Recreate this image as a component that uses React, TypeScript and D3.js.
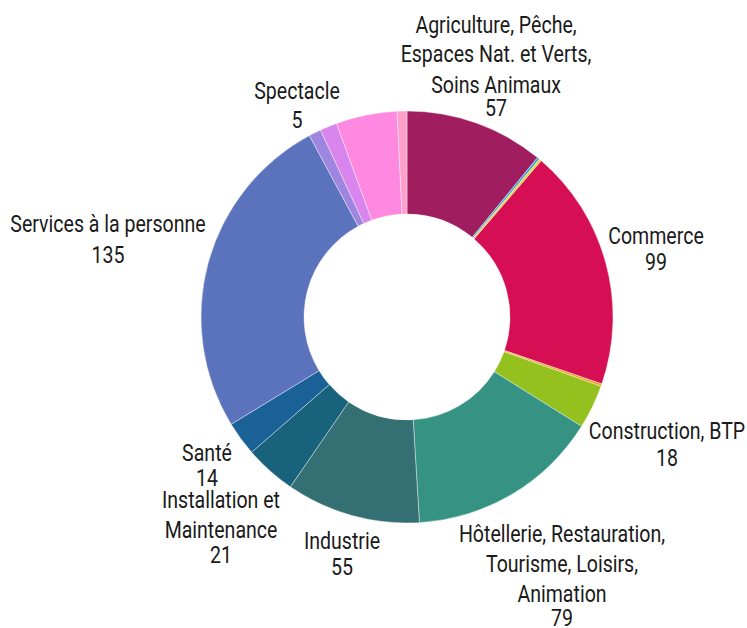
import React from "react";
import * as d3 from "d3";

// ---- data ----
const categories = [
  "Agriculture, Pêche, Espaces Nat. et Verts, Soins Animaux",
  "Arts et Façonnage d'ouvrages d'art",
  "Banque, Assurance, Immobilier",
  "Commerce",
  "Communication, Média et Multimédia",
  "Construction, BTP",
  "Hôtellerie, Restauration, Tourisme, Loisirs, Animation",
  "Industrie",
  "Installation et Maintenance",
  "Santé",
  "Services à la personne",
  "Spectacle",
  "Support à l'entreprise",
  "Transport et Logistique",
  "Non renseigné",
];
const values = [57, 1, 1, 99, 1, 18, 79, 55, 21, 14, 135, 5, 7, 25, 4];
const colors = [
  "#A01E5F", "#35A8E0", "#F6D330", "#D60F55", "#F7A11A", "#95C11E",
  "#369384", "#346F73", "#18627B", "#1A6197", "#5B72BC", "#9D85E0",
  "#D985EE", "#FF88E0", "#FFA0CB",
];
// label text lines (empty => no label shown)
const labelLines: string[][] = [
  ["Agriculture, Pêche,", "Espaces Nat. et Verts,", "Soins Animaux"],
  [],
  [],
  ["Commerce"],
  [],
  ["Construction, BTP"],
  ["Hôtellerie, Restauration,", "Tourisme, Loisirs,", "Animation"],
  ["Industrie"],
  ["Installation et", "Maintenance"],
  ["Santé"],
  ["Services à la personne"],
  ["Spectacle"],
  [],
  [],
  [],
];

// ---- layout (label anchors: center x, line baselines, value baseline) ----
const labelLayout: Record<number, { x: number; ys: number[]; vy: number }> = {
  0: { x: 496, ys: [33, 62, 93], vy: 116 },
  3: { x: 656, ys: [244], vy: 270 },
  5: { x: 667, ys: [439], vy: 466 },
  6: { x: 562, ys: [542, 572, 602], vy: 626 },
  7: { x: 342, ys: [549], vy: 575 },
  8: { x: 221, ys: [508, 538], vy: 563 },
  9: { x: 207, ys: [461], vy: 486 },
  10: { x: 108, ys: [232], vy: 263 },
  11: { x: 297, ys: [99], vy: 128 },
};

const W = 747;
const H = 628;
const CX = 407;
const CY = 317;
const R = 206;
const r = 103;
const FONT = "Roboto, 'Noto Sans', sans-serif";
const FS = 23;
const SX = 0.85;

export default function App() {
  const pie = d3
    .pie<number>()
    .sort(null)
    .value((d) => d)
    .startAngle(0)
    .endAngle(2 * Math.PI);
  const arcs = pie(values);
  const arcGen = d3.arc<d3.PieArcDatum<number>>().innerRadius(r).outerRadius(R);

  return (
    <svg
      width={W}
      height={H}
      style={{ position: "absolute", left: 0, top: 0, background: "#fff" }}
      fontFamily={FONT}
    >
      <g transform={`translate(${CX},${CY})`}>
        {arcs.map((a, i) => (
          <path
            key={categories[i]}
            d={arcGen(a) || ""}
            fill={colors[i]}
            stroke="#fff"
            strokeWidth={0.4}
          />
        ))}
      </g>
      {arcs.map((a, i) => {
        const lay = labelLayout[i];
        if (!lay || labelLines[i].length === 0) return null;
        return (
          <g key={"l" + i} transform={`translate(${lay.x},0) scale(${SX},1)`}>
            {labelLines[i].map((t, j) => (
              <text
                key={j}
                x={0}
                y={lay.ys[j]}
                textAnchor="middle"
                fontSize={FS}
                fill="#1a1a1a"
              >
                {t}
              </text>
            ))}
            <text x={0} y={lay.vy} textAnchor="middle" fontSize={FS} fill="#1a1a1a">
              {values[i]}
            </text>
          </g>
        );
      })}
    </svg>
  );
}
